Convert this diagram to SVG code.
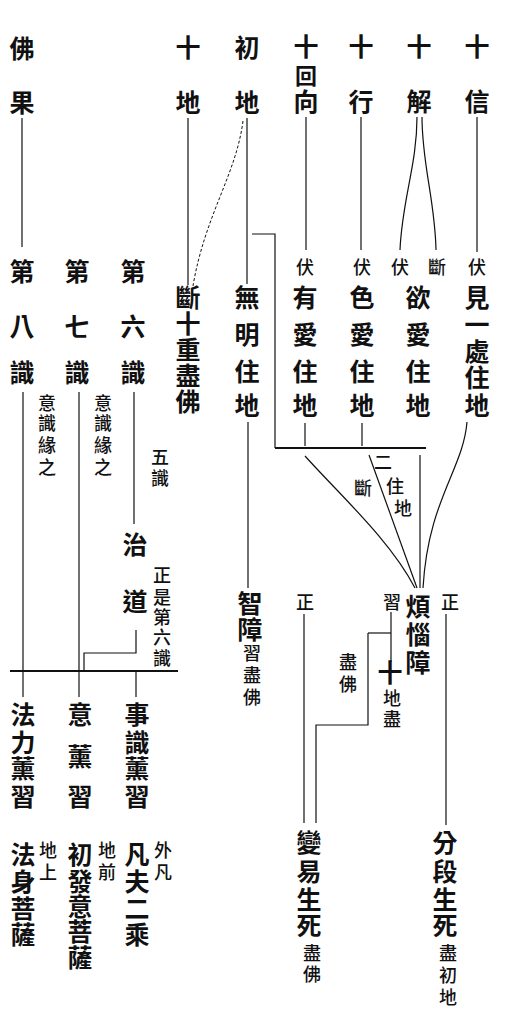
<svg xmlns="http://www.w3.org/2000/svg" width="508" height="1014" viewBox="0 0 508 1014">
<style>
text{font-family:"Noto Sans CJK TC","Noto Sans CJK SC",sans-serif;text-anchor:middle;fill:#111}
.b{font-size:25px;font-weight:700}
.s{font-size:18px;font-weight:500}
.m{font-size:22px;font-weight:700}
.ln{fill:none;stroke:#111;stroke-width:1.2}
.th{stroke-width:2}
.da{stroke-dasharray:3 2;stroke-width:1}
</style>
<rect width="508" height="1014" fill="#fff"/>
<g id="connectors" class="ln">
<path d="M22,118V247"/>
<path d="M188,118V285"/>
<path class="da" d="M243,121C236,175 205,215 193,286"/>
<path d="M247,118V284"/>
<path d="M306,117V250"/>
<path d="M361,117V250"/>
<path d="M417,117C417,165 402,200 400,250"/>
<path d="M422,117C422,165 435,200 436,250"/>
<path d="M477,117V252"/>
<path d="M252,234H275V448"/>
<path class="th" d="M275,448H426"/>
<path d="M305,423V446"/>
<path d="M362,423V446"/>
<path d="M467,422C463,470 428,500 423,588"/>
<path d="M305,456C340,495 390,540 415,588"/>
<path d="M369,455L417,588"/>
<path d="M420,455V588"/>
<path d="M248,422V588"/>
<path d="M391,612V662"/>
<path d="M368,633H391"/>
<path d="M368,633V725H316V823"/>
<path d="M304,614V823"/>
<path d="M446,614V825"/>
<path d="M23,392V671"/>
<path d="M79,392V671"/>
<path d="M134,392V524"/>
<path d="M136,630V653H84V671"/>
<path class="th" d="M10,671H178"/>
<path d="M23,671V697"/>
<path d="M79,671V697"/>
<path d="M136,671V697"/>
</g>
<g id="foguo" class="b"><text><tspan x="22" y="58">佛</tspan><tspan x="22" y="112">果</tspan></text></g>
<g id="shidi" class="b"><text><tspan x="188" y="57">十</tspan><tspan x="188" y="112">地</tspan></text></g>
<g id="chudi" class="b"><text><tspan x="247" y="57">初</tspan><tspan x="247" y="112">地</tspan></text></g>
<g id="shihuixiang"><text class="b" x="306" y="56">十</text><text class="m" x="306" y="84">回</text><text class="b" x="306" y="111">向</text></g>
<g id="shixing" class="b"><text><tspan x="361" y="56">十</tspan><tspan x="361" y="111">行</tspan></text></g>
<g id="shijie" class="b"><text><tspan x="419" y="56">十</tspan><tspan x="419" y="111">解</tspan></text></g>
<g id="shixin" class="b"><text><tspan x="477" y="56">十</tspan><tspan x="477" y="111">信</tspan></text></g>
<g id="duanshizhong" class="b"><text><tspan x="188" y="307">斷</tspan><tspan x="188" y="333">十</tspan><tspan x="188" y="359">重</tspan><tspan x="188" y="385">盡</tspan><tspan x="188" y="411">佛</tspan></text></g>
<g id="wuming" class="b"><text><tspan x="247" y="307">無</tspan><tspan x="247" y="344">明</tspan><tspan x="247" y="381">住</tspan><tspan x="247" y="415">地</tspan></text></g>
<g id="youai"><text class="s" x="305" y="274">伏</text><text class="b"><tspan x="305" y="307">有</tspan><tspan x="305" y="344">愛</tspan><tspan x="305" y="381">住</tspan><tspan x="305" y="415">地</tspan></text></g>
<g id="seai"><text class="s" x="362" y="274">伏</text><text class="b"><tspan x="362" y="307">色</tspan><tspan x="362" y="344">愛</tspan><tspan x="362" y="381">住</tspan><tspan x="362" y="415">地</tspan></text></g>
<g id="yuai"><text class="s" x="400" y="274">伏</text><text class="s" x="437" y="274">斷</text><text class="b"><tspan x="418" y="307">欲</tspan><tspan x="418" y="344">愛</tspan><tspan x="418" y="381">住</tspan><tspan x="418" y="415">地</tspan></text></g>
<g id="jianyichu"><text class="s" x="477" y="274">伏</text><text class="b"><tspan x="477" y="307">見</tspan><tspan x="477" y="334">一</tspan><tspan x="477" y="361">處</tspan><tspan x="477" y="387">住</tspan><tspan x="477" y="415">地</tspan></text></g>
<g id="erzhudi" class="s"><text><tspan x="383" y="469">二</tspan><tspan x="395" y="493">住</tspan><tspan x="403" y="515">地</tspan></text><text x="363" y="495">斷</text></g>
<g id="fannaozhang"><text class="s" x="392" y="609">習</text><text class="b"><tspan x="418" y="616">煩</tspan><tspan x="418" y="644">惱</tspan><tspan x="418" y="672">障</tspan></text></g>
<g id="zheng-right" class="s"><text x="450" y="609">正</text></g>
<g id="zheng-left" class="s"><text x="305" y="609">正</text></g>
<g id="zhizhang"><text class="b"><tspan x="250" y="613">智</tspan><tspan x="250" y="639">障</tspan></text><text class="s"><tspan x="252" y="660">習</tspan><tspan x="252" y="682">盡</tspan><tspan x="252" y="704">佛</tspan></text></g>
<g id="shidijin"><text class="b" x="390" y="682">十</text><text class="s"><tspan x="392" y="705">地</tspan><tspan x="392" y="726">盡</tspan></text></g>
<g id="jinfo" class="s"><text><tspan x="348" y="669">盡</tspan><tspan x="348" y="691">佛</tspan></text></g>
<g id="bianyi"><text class="b"><tspan x="309" y="852">變</tspan><tspan x="309" y="881">易</tspan><tspan x="309" y="909">生</tspan><tspan x="309" y="935">死</tspan></text><text class="s"><tspan x="312" y="960">盡</tspan><tspan x="312" y="981">佛</tspan></text></g>
<g id="fenduan"><text class="b"><tspan x="445" y="852">分</tspan><tspan x="445" y="881">段</tspan><tspan x="445" y="909">生</tspan><tspan x="445" y="935">死</tspan></text><text class="s"><tspan x="448" y="960">盡</tspan><tspan x="448" y="982">初</tspan><tspan x="448" y="1004">地</tspan></text></g>
<g id="dibashi"><text class="b"><tspan x="22" y="281">第</tspan><tspan x="22" y="336">八</tspan><tspan x="22" y="382">識</tspan></text><text class="s"><tspan x="47" y="410">意</tspan><tspan x="47" y="430">識</tspan><tspan x="47" y="452">緣</tspan><tspan x="47" y="474">之</tspan></text></g>
<g id="diqishi"><text class="b"><tspan x="77" y="281">第</tspan><tspan x="77" y="336">七</tspan><tspan x="77" y="382">識</tspan></text><text class="s"><tspan x="103" y="410">意</tspan><tspan x="103" y="430">識</tspan><tspan x="103" y="452">緣</tspan><tspan x="103" y="474">之</tspan></text></g>
<g id="diliushi"><text class="b"><tspan x="133" y="281">第</tspan><tspan x="133" y="336">六</tspan><tspan x="133" y="382">識</tspan></text><text class="s"><tspan x="160" y="464">五</tspan><tspan x="160" y="485">識</tspan></text></g>
<g id="zhidao"><text class="b"><tspan x="135" y="554">治</tspan><tspan x="135" y="611">道</tspan></text><text class="s"><tspan x="162" y="582">正</tspan><tspan x="162" y="604">是</tspan><tspan x="162" y="624">第</tspan><tspan x="162" y="644">六</tspan><tspan x="162" y="665">識</tspan></text></g>
<g id="falixunxi" class="b"><text><tspan x="23" y="724">法</tspan><tspan x="23" y="752">力</tspan><tspan x="23" y="778">薰</tspan><tspan x="23" y="806">習</tspan></text></g>
<g id="yixunxi" class="b"><text><tspan x="80" y="724">意</tspan><tspan x="80" y="766">薰</tspan><tspan x="80" y="806">習</tspan></text></g>
<g id="shishixunxi" class="b"><text><tspan x="137" y="724">事</tspan><tspan x="137" y="752">識</tspan><tspan x="137" y="778">薰</tspan><tspan x="137" y="806">習</tspan></text></g>
<g id="fashen"><text class="b"><tspan x="23" y="864">法</tspan><tspan x="23" y="891">身</tspan><tspan x="23" y="918">菩</tspan><tspan x="23" y="944">薩</tspan></text><text class="s"><tspan x="48" y="857">地</tspan><tspan x="48" y="879">上</tspan></text></g>
<g id="chufayi"><text class="b"><tspan x="80" y="864">初</tspan><tspan x="80" y="891">發</tspan><tspan x="80" y="916">意</tspan><tspan x="80" y="941">菩</tspan><tspan x="80" y="967">薩</tspan></text><text class="s"><tspan x="107" y="857">地</tspan><tspan x="107" y="879">前</tspan></text></g>
<g id="fanfu"><text class="b"><tspan x="137" y="864">凡</tspan><tspan x="137" y="891">夫</tspan><tspan x="137" y="918">二</tspan><tspan x="137" y="944">乘</tspan></text><text class="s"><tspan x="163" y="857">外</tspan><tspan x="163" y="879">凡</tspan></text></g>
</svg>
